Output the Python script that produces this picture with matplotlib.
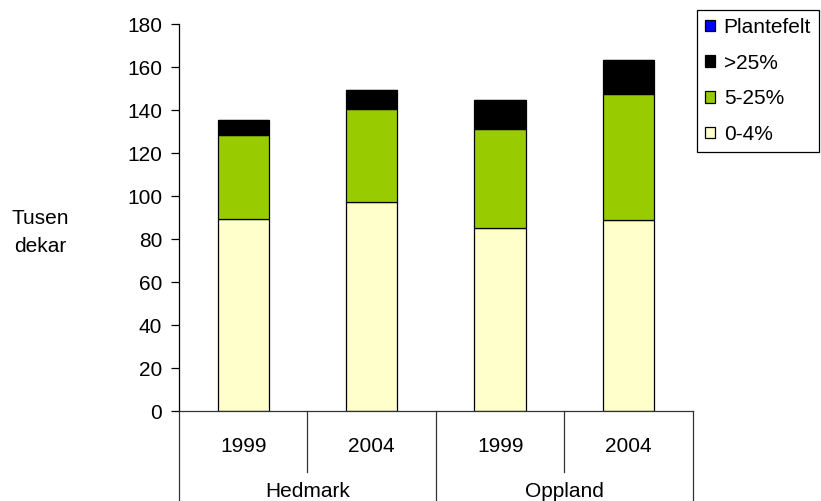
import matplotlib.pyplot as plt
import matplotlib.transforms as mtransforms
import numpy as np

plt.rcParams['font.family'] = ['Liberation Sans', 'DejaVu Sans']
plt.rcParams['font.size'] = 15

# data (tusen dekar)
years = ['1999', '2004', '1999', '2004']
regions = ['Hedmark', 'Oppland']
lav = [89.3, 97.2, 85.1, 88.8]        # 0-4%
middels = [39.1, 43.3, 46.2, 58.6]    # 5-25%
hoy = [6.9, 8.8, 13.2, 16.0]          # >25%
plantefelt = [0, 0, 0, 0]

fig = plt.figure(figsize=(8.21, 5.01), dpi=100)
ax = fig.add_axes([0.218, 0.1796, 0.626, 0.7724])

x = np.arange(len(years))
w = 0.40
b1 = ax.bar(x, lav, w, color='#FFFFCC', edgecolor='black', linewidth=0.9, label='0-4%')
b2 = ax.bar(x, middels, w, bottom=lav, color='#99CC00', edgecolor='black', linewidth=0.9, label='5-25%')
bunn = np.array(lav) + np.array(middels)
b3 = ax.bar(x, hoy, w, bottom=bunn, color='black', edgecolor='black', linewidth=0.9, label='>25%')
b4 = ax.bar(x, plantefelt, w, bottom=bunn + np.array(hoy), color='#0000FF', edgecolor='black', linewidth=0.9, label='Plantefelt')

ax.set_xlim(-0.5, 3.5)
ax.set_ylim(0, 180)
ax.set_yticks(range(0, 181, 20))
ax.set_xticks([])
ax.tick_params(axis='y', direction='out', length=6, width=0.9, pad=6)
for s in ['top', 'right']:
    ax.spines[s].set_visible(False)
ax.spines['left'].set_linewidth(0.9)
ax.spines['bottom'].set_linewidth(0.9)
ax.spines['bottom'].set_color('#333333')

# kategoriakse med to nivåer
trans = mtransforms.blended_transform_factory(ax.transData, ax.transAxes)
for xb in [-0.5, 1.5, 3.5]:
    ax.plot([xb, xb], [0, -0.2326], transform=trans, color='#333333', lw=0.9, clip_on=False)
for xb in [0.5, 2.5]:
    ax.plot([xb, xb], [0, -0.158], transform=trans, color='#333333', lw=0.9, clip_on=False)
for xi, yr in zip(x, years):
    ax.text(xi, -0.0904, yr, transform=trans, ha='center', va='center')
for i, reg in enumerate(regions):
    ax.text(2 * i + 0.5, -0.209, reg, transform=trans, ha='center', va='center')

fig.text(40 / 821, 1 - 232 / 501, 'Tusen\ndekar', ha='center', va='center', linespacing=1.6)

leg = ax.legend(handles=[b4, b3, b2, b1], loc='upper left', bbox_to_anchor=(697 / 821, 1 - 10 / 501),
                bbox_transform=fig.transFigure, frameon=True, fancybox=False, framealpha=1,
                edgecolor='black', handlelength=0.5, handleheight=0.5, handletextpad=0.4,
                labelspacing=0.8, borderpad=0.38, borderaxespad=0)
leg.get_frame().set_linewidth(0.9)

fig.savefig('out.png', dpi=100)
